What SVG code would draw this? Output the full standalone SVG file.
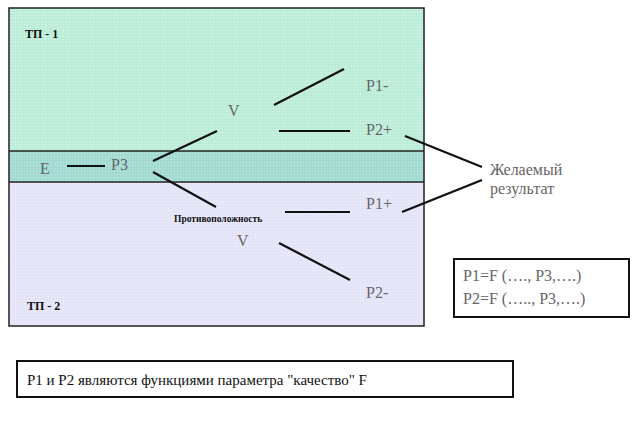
<svg xmlns="http://www.w3.org/2000/svg" width="643" height="432" viewBox="0 0 643 432" font-family="'Liberation Serif','Times New Roman','DejaVu Serif',serif">
<style>
text{font-family:'Liberation Serif','Times New Roman','DejaVu Serif',serif;fill:#222}
.g{fill:#666;font-size:16px}
.b{font-weight:bold;font-size:12px;fill:#111}
.c line{stroke:#111;stroke-width:2.2}
.box{fill:#fff;stroke:#111;stroke-width:2}
</style>
<defs>
<pattern id="grid" width="3" height="3" patternUnits="userSpaceOnUse"><path d="M0 0H3M0 0V3" stroke="#fff" stroke-opacity="0.35" stroke-width="0.8" fill="none"/></pattern>
</defs>
<rect width="643" height="432" fill="#fff"/>
<g id="tp1"><rect x="9" y="8" width="415" height="143" fill="#b9ecd6"/><rect x="9" y="8" width="415" height="143" fill="url(#grid)"/></g>
<g id="band"><rect x="9" y="151" width="415" height="31" fill="#9dd9cf"/><rect x="9" y="151" width="415" height="31" fill="url(#grid)"/></g>
<g id="tp2"><rect x="9" y="182" width="415" height="144" fill="#e3e3f8"/><rect x="9" y="182" width="415" height="144" fill="url(#grid)"/></g>
<rect x="9" y="8" width="415" height="318" fill="none" stroke="#222" stroke-width="1.5"/>
<line x1="9" y1="151" x2="424" y2="151" stroke="#222" stroke-width="1.5"/>
<line x1="9" y1="182" x2="424" y2="182" stroke="#222" stroke-width="1.5"/>
<g class="c" id="connectors">
<line x1="274" y1="105" x2="344" y2="69"/>
<line x1="279" y1="131" x2="350" y2="131"/>
<line x1="153" y1="161" x2="217" y2="131"/>
<line x1="67" y1="166" x2="105" y2="166"/>
<line x1="153" y1="172" x2="216" y2="207"/>
<line x1="285" y1="212" x2="350" y2="212"/>
<line x1="279" y1="243" x2="350" y2="280"/>
<line x1="405" y1="136" x2="482" y2="167"/>
<line x1="402" y1="212" x2="482" y2="180"/>
</g>
<g id="labels">
<text class="b" x="25" y="38">ТП - 1</text>
<text class="b" x="27" y="310">ТП - 2</text>
<text class="g" x="366" y="91">P1-</text>
<text class="g" x="366" y="135">P2+</text>
<text class="g" x="40" y="174">E</text>
<text class="g" x="111" y="170">P3</text>
<text class="g" x="228" y="116">V</text>
<text class="g" x="237" y="246">V</text>
<text class="g" x="366" y="209">P1+</text>
<text class="g" x="366" y="298">P2-</text>
<text x="174" y="222" style="font-weight:bold;font-size:9.5px;fill:#111">Противоположность</text>
<text class="g" x="490" y="175">Желаемый</text>
<text class="g" x="490" y="194">результат</text>
</g>
<g id="formula"><rect class="box" x="454" y="259" width="175" height="58"/>
<text class="g" x="463" y="281">P1=F (…., P3,….)</text>
<text class="g" x="463" y="304">P2=F (….., P3,….)</text></g>
<g id="note"><rect class="box" x="17" y="361" width="496" height="36"/>
<text x="27" y="385" style="font-size:15px;fill:#111">P1 и P2 являются функциями параметра "качество" F</text></g>
</svg>
